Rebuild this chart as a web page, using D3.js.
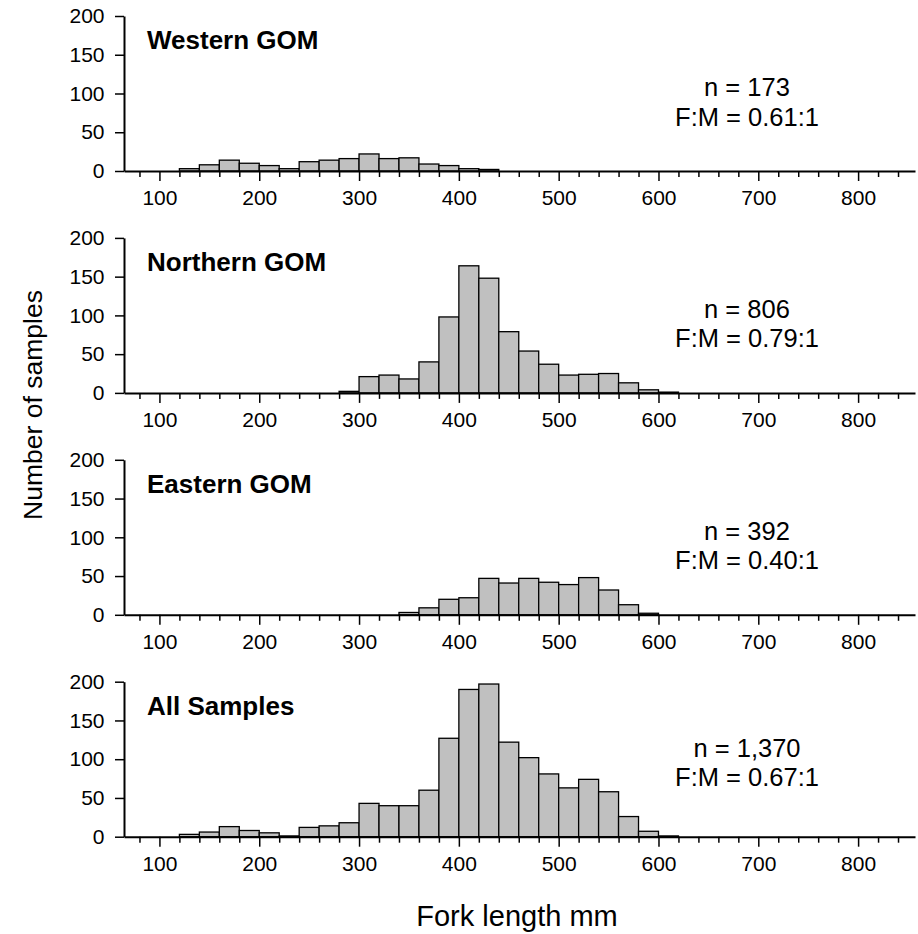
<!DOCTYPE html>
<html>
<head>
<meta charset="utf-8">
<script src="https://cdn.jsdelivr.net/npm/d3@7"></script>
<style>
  body { margin: 0; background: #fff; }
  svg { display: block; }
  text { font-family: Arial, "Liberation Sans", sans-serif; fill: #000; }
</style>
</head>
<body>
<svg id="chart" width="918" height="934"></svg>
<script>
// ---- data ----
const binStarts = [120,140,160,180,200,220,240,260,280,300,320,340,360,380,400,420,440,460,480,500,520,540,560,580,600];
const panelNames = ["Western GOM", "Northern GOM", "Eastern GOM", "All Samples"];
const nLabels = ["n = 173", "n = 806", "n = 392", "n = 1,370"];
const ratioLabels = ["F:M = 0.61:1", "F:M = 0.79:1", "F:M = 0.40:1", "F:M = 0.67:1"];
const western  = [3,8,14,10,7,3,12,14,16,22,16,17,9,7,3,2,0,0,0,0,0,0,0,0,0];
const northern = [0,0,0,0,0,0,0,0,2,21,23,18,40,98,164,148,79,54,37,23,24,25,13,4,1];
const eastern  = [0,0,0,0,0,0,0,0,0,0,0,3,9,20,22,47,41,47,42,39,48,32,13,2,0];
const allSamples = [3,6,13,8,5,1,12,14,18,43,40,40,60,127,190,197,122,102,81,63,74,58,26,7,1];
const seriesList = [western, northern, eastern, allSamples];
const yTicks = [0,50,100,150,200];
const xMajorTicks = [100,200,300,400,500,600,700,800];
const xMinorTicks = [80,120,140,160,180,220,240,260,280,320,340,360,380,420,440,460,480,520,540,560,580,620,640,660,680,720,740,760,780,820,840];
const binWidth = 20;
const xLabel = "Fork length mm";
const yLabel = "Number of samples";

// ---- layout ----
const svg = d3.select("#chart");
const x = d3.scaleLinear().domain([64.5, 857]).range([124, 915]);
const panelStep = 221.9;
const firstZero = 171;
const panelH = 155;

seriesList.forEach((vals, i) => {
  const y0 = firstZero + i * panelStep;
  const y = d3.scaleLinear().domain([0, 200]).range([y0, y0 - panelH]);
  const g = svg.append("g");

  g.selectAll("rect.bar")
    .data(binStarts.map((s, k) => ({ s, v: vals[k] })).filter(d => d.v > 0))
    .join("rect")
    .attr("class", "bar")
    .attr("x", d => x(d.s))
    .attr("width", d => x(d.s + binWidth) - x(d.s))
    .attr("y", d => y(d.v))
    .attr("height", d => y(0) - y(d.v))
    .attr("fill", "#c0c0c0")
    .attr("stroke", "#000")
    .attr("stroke-width", 1.3);

  // minor x ticks
  const minor = g.append("g").attr("transform", `translate(0,${y0})`)
    .call(d3.axisBottom(x).tickValues(xMinorTicks).tickSize(6).tickSizeOuter(0).tickFormat(""));
  minor.select(".domain").remove();
  minor.selectAll("line").attr("stroke-width", 1.5);

  // major x ticks + labels
  const major = g.append("g").attr("transform", `translate(0,${y0})`)
    .call(d3.axisBottom(x).tickValues(xMajorTicks).tickSize(10).tickSizeOuter(0).tickPadding(9.5).tickFormat(d3.format("d")));
  major.select(".domain").attr("stroke-width", 2);
  major.selectAll("line").attr("stroke-width", 1.5);
  major.selectAll("text").attr("font-size", 21).attr("font-family", "Arial, 'Liberation Sans', sans-serif");

  // y axis
  const ya = g.append("g").attr("transform", `translate(124,0)`)
    .call(d3.axisLeft(y).tickValues(yTicks).tickSize(9).tickSizeOuter(0).tickPadding(10.5));
  ya.select(".domain").attr("stroke-width", 2);
  ya.selectAll("line").attr("stroke-width", 1.5);
  ya.selectAll("text").attr("font-size", 21).attr("font-family", "Arial, 'Liberation Sans', sans-serif");

  // panel title
  g.append("text")
    .attr("x", 147).attr("y", y0 - 122)
    .attr("font-size", 26).attr("font-weight", "bold")
    .text(panelNames[i]);

  // annotations
  const annY = y0 - 75 - (i === 3 ? 5 : 0);
  g.append("text")
    .attr("x", 747).attr("y", annY)
    .attr("text-anchor", "middle").attr("font-size", 25.5)
    .text(nLabels[i]);
  g.append("text")
    .attr("x", 747).attr("y", annY + 29.5)
    .attr("text-anchor", "middle").attr("font-size", 25.5)
    .text(ratioLabels[i]);
});

// axis titles
svg.append("text")
  .attr("x", 517).attr("y", 926)
  .attr("text-anchor", "middle").attr("font-size", 29)
  .text(xLabel);

svg.append("text")
  .attr("transform", "translate(42,405) rotate(-90)")
  .attr("text-anchor", "middle").attr("font-size", 26.5)
  .text(yLabel);
</script>
</body>
</html>
